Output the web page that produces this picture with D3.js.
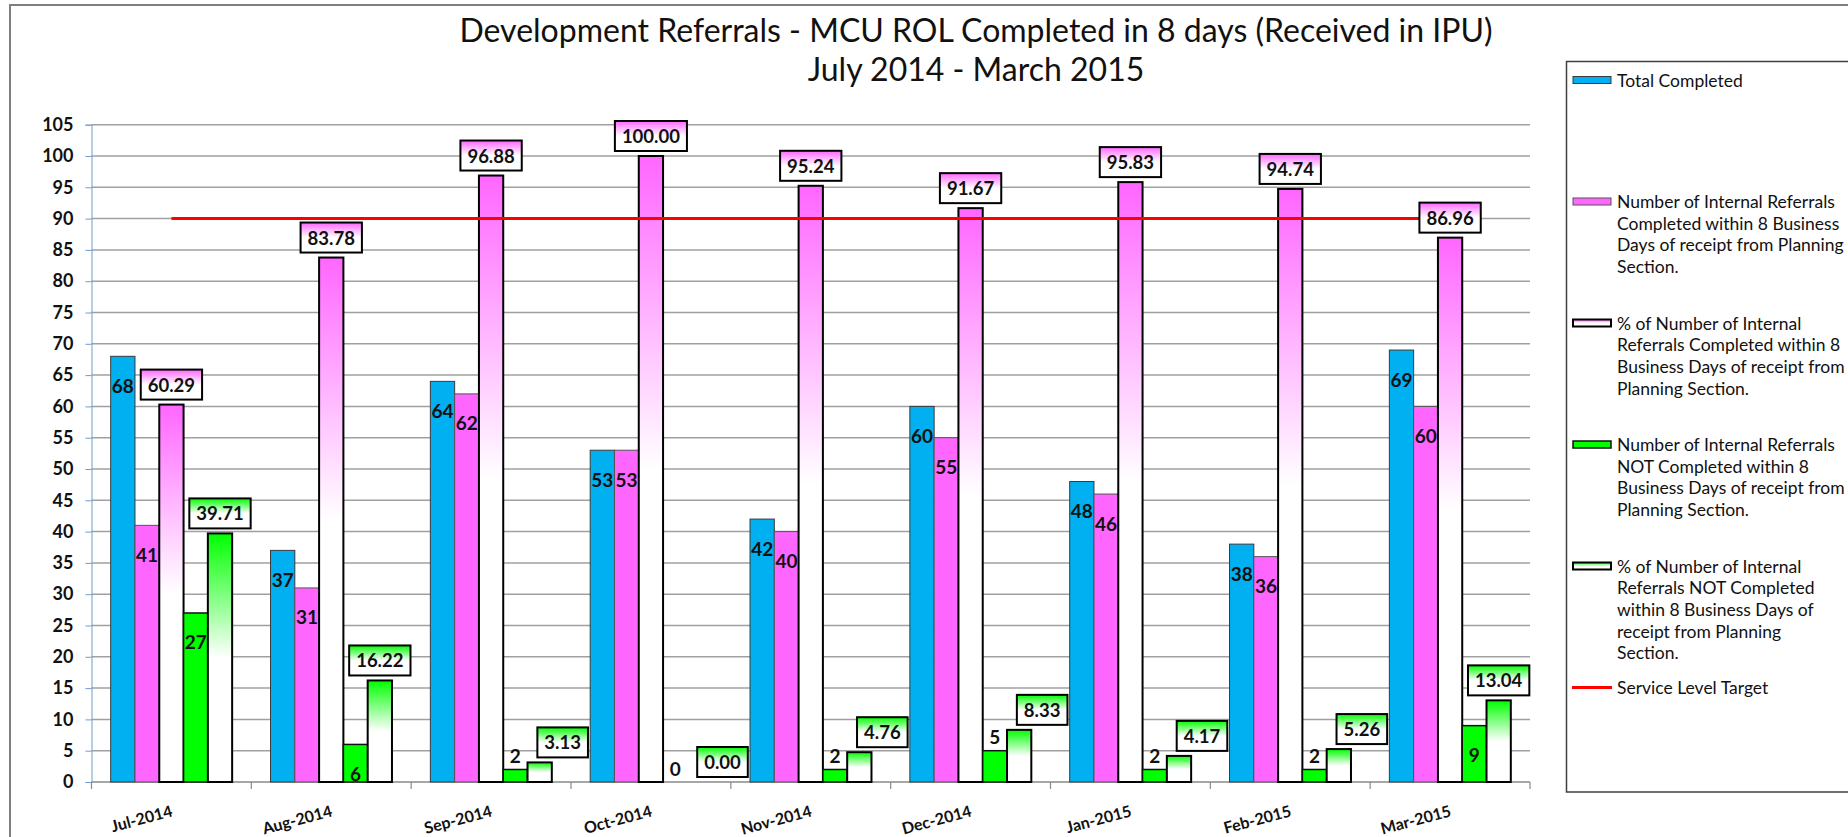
<!DOCTYPE html>
<html>
<head>
<meta charset="utf-8">
<script src="https://cdn.jsdelivr.net/npm/d3@7"></script>
<style>
  body { margin: 0; background: #fff; }
  svg { display: block; font-family: Lato, "Open Sans", sans-serif; }
</style>
</head>
<body>
<div id="chart"></div>
<script>
// chart data
const months = ["Jul-2014", "Aug-2014", "Sep-2014", "Oct-2014", "Nov-2014", "Dec-2014", "Jan-2015", "Feb-2015", "Mar-2015"];
const totalCompleted = [68, 37, 64, 53, 42, 60, 48, 38, 69];
const completedIn8 = [41, 31, 62, 53, 40, 55, 46, 36, 60];
const pctCompleted = [60.29, 83.78, 96.88, 100.00, 95.24, 91.67, 95.83, 94.74, 86.96];
const notCompleted = [27, 6, 2, 0, 2, 5, 2, 2, 9];
const pctNotCompleted = [39.71, 16.22, 3.13, 0.00, 4.76, 8.33, 4.17, 5.26, 13.04];
const serviceTarget = 90;
const yTicks = d3.range(0, 106, 5);

const titleLines = ["Development Referrals - MCU ROL Completed in 8 days (Received in IPU)", "July 2014 - March 2015"];
const legendLabels = [
    ["Total Completed"],
    ["Number of Internal Referrals", "Completed within 8 Business", "Days of receipt from Planning", "Section."],
    ["% of Number of Internal", "Referrals Completed within 8", "Business Days of receipt from", "Planning Section."],
    ["Number of Internal Referrals", "NOT Completed within 8", "Business Days of receipt from", "Planning Section."],
    ["% of Number of Internal", "Referrals NOT Completed", "within 8 Business Days of", "receipt from Planning", "Section."],
    ["Service Level Target"]
];

const series = [
    { key: "total", values: totalCompleted, fill: "#00B0F0", stroke: "#3a3a3a", sw: 1, pct: false },
    { key: "in8", values: completedIn8, fill: "#FF66FF", stroke: "#555", sw: 1, pct: false },
    { key: "pctIn8", values: pctCompleted, fill: "url(#pinkFade)", stroke: "#000", sw: 2, pct: true },
    { key: "notIn8", values: notCompleted, fill: "#00FF00", stroke: "#111", sw: 1.5, pct: false },
    { key: "pctNot", values: pctNotCompleted, fill: "url(#greenFade)", stroke: "#000", sw: 2, pct: true }
];

const W = 1848, H = 837;
const plot = { left: 91.5, right: 1530, top: 124.7, bottom: 782 };

const svg = d3.select("#chart").append("svg").attr("width", W).attr("height", H);

// gradients
const defs = svg.append("defs");
function fade(id, color) {
    let g = defs.append("linearGradient").attr("id", id)
        .attr("x1", 0).attr("y1", 0).attr("x2", 0).attr("y2", 1);
    g.append("stop").attr("offset", 0).attr("stop-color", color);
    g.append("stop").attr("offset", 0.5).attr("stop-color", "#fff");
    g.append("stop").attr("offset", 1).attr("stop-color", "#fff");
}
fade("pinkFade", "#FF66FF");
fade("greenFade", "#00FF00");

// outer chart frame
svg.append("rect").attr("x", 10).attr("y", 5).attr("width", 1900).attr("height", 900)
    .attr("fill", "#fff").attr("stroke", "#7f7f7f").attr("stroke-width", 2);

// title
svg.append("g").selectAll("text").data(titleLines).join("text")
    .attr("x", 976).attr("y", (d, i) => 42 + i * 39)
    .attr("text-anchor", "middle").attr("font-size", 32).attr("fill", "#111")
    .text(d => d);

// scales
const x0 = d3.scaleBand().domain(months).range([plot.left, plot.right]).padding(0);
const x1 = d3.scaleBand().domain(series.map(s => s.key)).range([0, x0.bandwidth()])
    .paddingInner(0).paddingOuter(0.79);
const y = d3.scaleLinear().domain([0, 105]).range([plot.bottom, plot.top]);

// gridlines
svg.append("g").selectAll("line").data(yTicks.filter(d => d > 0)).join("line")
    .attr("x1", plot.left).attr("x2", plot.right)
    .attr("y1", d => y(d)).attr("y2", d => y(d))
    .attr("stroke", "#a0a0a0").attr("stroke-width", 1.5);

// y axis
const yAxis = svg.append("g").attr("transform", "translate(" + plot.left + ",0)")
    .call(d3.axisLeft(y).tickValues(yTicks).tickSize(6).tickPadding(12));
yAxis.select(".domain").attr("stroke", "#6f9bd1");
yAxis.selectAll(".tick line").attr("stroke", "#6f9bd1");
yAxis.selectAll(".tick text").attr("font-family", "Lato, sans-serif").attr("font-size", 18)
    .attr("font-weight", "bold").attr("fill", "#111");

// x axis
const xAxis = svg.append("g").attr("transform", "translate(0," + plot.bottom + ")");
xAxis.append("line").attr("x1", plot.left).attr("x2", plot.right).attr("stroke", "#8a8a8a").attr("stroke-width", 1.5);
xAxis.selectAll("line.tk").data(d3.range(months.length + 1)).join("line").attr("class", "tk")
    .attr("x1", i => plot.left + i * x0.bandwidth()).attr("x2", i => plot.left + i * x0.bandwidth())
    .attr("y1", 0).attr("y2", 7).attr("stroke", "#8a8a8a").attr("stroke-width", 1.2);
xAxis.selectAll("text").data(months).join("text")
    .attr("transform", d => "translate(" + (x0(d) + x0.bandwidth() / 2 + 2) + ",34) rotate(-15)")
    .attr("text-anchor", "end").attr("font-size", 16).attr("font-weight", "bold").attr("fill", "#111")
    .text(d => d);

// bars
const groups = svg.append("g").selectAll("g").data(series).join("g");
groups.selectAll("rect").data(s => s.values.map((v, i) => ({ s: s, v: v, m: months[i] }))).join("rect")
    .attr("x", d => x0(d.m) + x1(d.s.key))
    .attr("y", d => y(d.v))
    .attr("width", x1.bandwidth())
    .attr("height", d => y(0) - y(d.v))
    .attr("fill", d => d.s.fill)
    .attr("stroke", d => d.s.stroke)
    .attr("stroke-width", d => d.s.sw);

// service level target line
svg.append("line")
    .attr("x1", x0(months[0]) + x0.bandwidth() / 2)
    .attr("x2", x0(months[months.length - 1]) + x0.bandwidth() / 2)
    .attr("y1", y(serviceTarget)).attr("y2", y(serviceTarget))
    .attr("stroke", "#ff0000").attr("stroke-width", 3);

// count labels
const countLabels = svg.append("g");
series.filter(s => !s.pct).forEach(s => {
    s.values.forEach((v, i) => {
        let cx = x0(months[i]) + x1(s.key) + x1.bandwidth() / 2;
        let h = y(0) - y(v);
        let cy = h >= 37 ? y(v) + 29 : y(v) - 14;
        countLabels.append("text").attr("x", cx).attr("y", cy)
            .attr("text-anchor", "middle").attr("dominant-baseline", "central")
            .attr("font-size", 19).attr("font-weight", "bold").attr("fill", "#111")
            .text(v);
    });
});

// percent labels in boxes
const pctLabels = svg.append("g");
series.filter(s => s.pct).forEach(s => {
    s.values.forEach((v, i) => {
        let cx = x0(months[i]) + x1(s.key) + x1.bandwidth() / 2 + (v < 10 ? 23 : 0);
        let bottom = y(v) - 5;
        let g = pctLabels.append("g");
        let t = g.append("text").attr("x", cx).attr("y", bottom - 15)
            .attr("text-anchor", "middle").attr("dominant-baseline", "central")
            .attr("font-size", 18.5).attr("font-weight", "bold").attr("fill", "#111")
            .text(v.toFixed(2));
        let tw = t.node().getComputedTextLength();
        g.insert("rect", "text")
            .attr("x", cx - tw / 2 - 7).attr("y", bottom - 30)
            .attr("width", tw + 14).attr("height", 30)
            .attr("fill", s.fill).attr("stroke", "#000").attr("stroke-width", 2);
    });
});

// legend
const legend = svg.append("g");
legend.append("rect").attr("x", 1566.5).attr("y", 61.5).attr("width", 400).attr("height", 730.5)
    .attr("fill", "#fff").attr("stroke", "#404040").attr("stroke-width", 1.5);
const legendItems = series.map(s => ({ fill: s.fill, stroke: s.stroke, sw: s.sw })).concat([{ line: true }]);
legendItems.forEach((it, i) => {
    let cy = 80 + i * 121.5;
    if (it.line) {
        legend.append("line").attr("x1", 1572).attr("x2", 1612).attr("y1", cy).attr("y2", cy)
            .attr("stroke", "#ff0000").attr("stroke-width", 3);
    } else {
        legend.append("rect").attr("x", 1573).attr("y", cy - 3.5).attr("width", 38).attr("height", 7)
            .attr("fill", it.fill).attr("stroke", it.stroke).attr("stroke-width", it.sw);
    }
    legend.append("g").selectAll("text").data(legendLabels[i]).join("text")
        .attr("x", 1617).attr("y", (d, j) => cy + j * 21.7)
        .attr("dominant-baseline", "central")
        .attr("font-size", 17.5).attr("fill", "#111")
        .text(d => d);
});
</script>
</body>
</html>
